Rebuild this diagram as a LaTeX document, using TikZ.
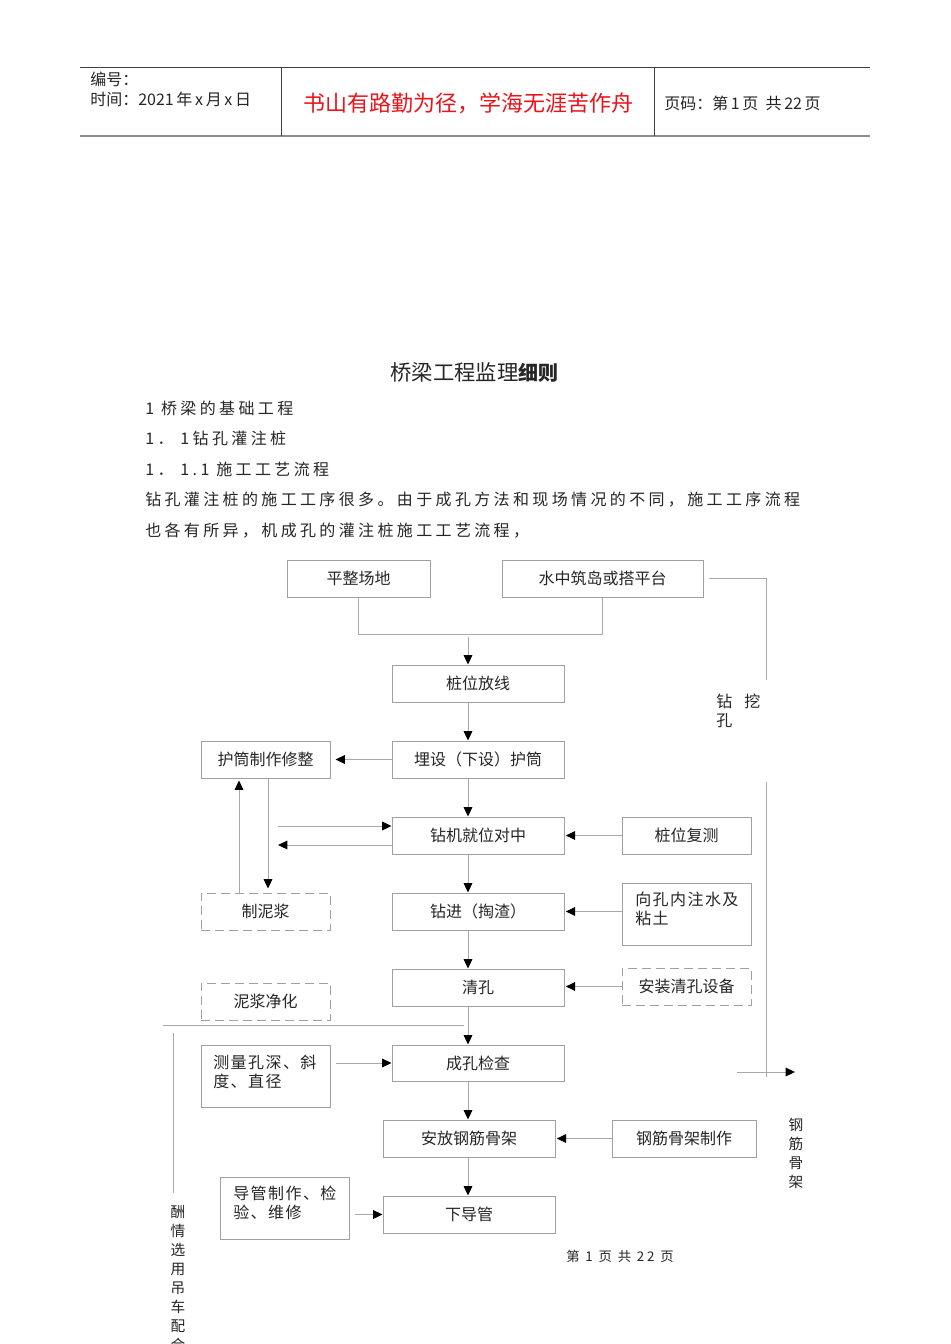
\documentclass[tikz,border=0pt]{standalone}
\usepackage{fontspec}
\setmainfont{Noto Sans CJK SC}
\newfontfamily\bodyfont[LetterSpace=21]{Noto Sans CJK SC}
\newfontfamily\spfont[LetterSpace=9]{Noto Sans CJK SC}
\usetikzlibrary{arrows.meta}
\definecolor{lnc}{HTML}{A8A8A8}
\definecolor{bxc}{HTML}{A0A0A0}
\definecolor{hdred}{HTML}{E8141B}
\definecolor{txc}{HTML}{262626}
\begin{document}
\begin{tikzpicture}[x=0.75pt,y=-0.75pt,
  bsz/.style 2 args={minimum width=#1*0.75pt, minimum height=#2*0.75pt},
  box/.style={draw=bxc, line width=0.75pt, inner sep=0pt, text=txc, font=\fontsize{12pt}{14.25pt}\selectfont},
  dbox/.style={box, dash pattern=on 6.75pt off 3.75pt},
  txt/.style={inner sep=0pt, text=txc, font=\fontsize{12pt}{14.25pt}\selectfont},
  mtxt/.style={inner sep=0pt, text=txc, align=left, font=\spfont\fontsize{12pt}{14.25pt}\selectfont},
  ln/.style={draw=lnc, line width=0.75pt},
  arr/.style={ln, -{Triangle[color=black,length=7pt,width=6.5pt]}},
  body/.style={inner sep=0pt, anchor=west, text=txc, font=\bodyfont\fontsize{12pt}{14pt}\selectfont}
]
\useasboundingbox (0,0) rectangle (950,1344);
\fill[white] (0,0) rectangle (950,1344);

% header
\coordinate (h1) at (80,68); \coordinate (h2) at (870,68);
\coordinate (h3) at (80,136); \coordinate (h4) at (870,136);
\draw[black!75, line width=0.75pt] (h1) -- (h2);
\draw[black!45, line width=1.5pt] (h3) -- (h4);
\draw[black!75, line width=0.75pt] (281,68) -- (281,136);
\draw[black!75, line width=0.75pt] (654,68) -- (654,136);
\node[txt, anchor=west] (bh) at (90,79) {编号：};
\node[txt, anchor=west] (sj) at (90,99) {时间：2021\,年\,x\,月\,x\,日};
\node[inner sep=0pt, text=hdred, font=\fontsize{16.5pt}{18pt}\selectfont] (motto) at (468,103) {书山有路勤为径，学海无涯苦作舟};
\node[txt, anchor=west] (ym) at (664,103) {页码：第\,1\,页\ \ 共\,22\,页};

% title and body
\node[inner sep=0pt, text=txc, font=\fontsize{16pt}{18pt}\selectfont] (title) at (474.5,372) {桥梁工程监理{\bfseries\fontsize{15pt}{18pt}\selectfont 细则}};
\node[body] (b1) at (145,408) {1 桥梁的基础工程};
\node[body] (b2) at (145,438) {1． 1钻孔灌注桩};
\node[body] (b3) at (145,469) {1． 1.1 施工工艺流程};
\node[body] (b4) at (145,500) {钻孔灌注桩的施工工序很多。由于成孔方法和现场情况的不同，施工工序流程};
\node[body] (b5) at (145,531) {也各有所异，机成孔的灌注桩施工工艺流程，};

% boxes
\node[box, bsz={143}{37}] (pz) at (358.5,578.5) {平整场地};
\node[box, bsz={201}{37}] (sz) at (602.5,578.5) {水中筑岛或搭平台};
\node[box, bsz={172}{37}] (zw) at (478,683.5) {桩位放线};
\node[box, bsz={172}{37}] (ms) at (478,759.5) {埋设（下设）护筒};
\node[box, bsz={129}{37}] (hz) at (265.5,759.5) {护筒制作修整};
\node[box, bsz={172}{37}] (zj) at (478,835.5) {钻机就位对中};
\node[box, bsz={129}{37}] (fc) at (686.5,835.5) {桩位复测};
\node[box, bsz={172}{37}] (zjin) at (478,911.5) {钻进（掏渣）};
\node[dbox, bsz={129}{37}] (znj) at (265.5,911.5) {制泥浆};
\node[box, bsz={129}{62}] (zs) at (686.5,914) {};
\node[mtxt, anchor=west] (zst) at (635,908.5) {向孔内注水及\\粘土};
\node[box, bsz={172}{37}] (qk) at (478,987.5) {清孔};
\node[dbox, bsz={129}{37}] (az) at (686.5,986.5) {安装清孔设备};
\node[dbox, bsz={129}{37}] (nj) at (265.5,1001.5) {泥浆净化};
\node[box, bsz={172}{36}] (ck) at (478,1063) {成孔检查};
\node[box, bsz={129}{62}] (cl) at (265.5,1076) {};
\node[mtxt, anchor=west] (clt) at (213,1071.5) {测量孔深、斜\\度、直径};
\node[box, bsz={172}{37}] (af) at (469,1138.5) {安放钢筋骨架};
\node[box, bsz={144}{37}] (gz) at (684,1138.5) {钢筋骨架制作};
\node[box, bsz={172}{37}] (xd) at (469,1214.5) {下导管};
\node[box, bsz={129}{62}] (dg) at (284.5,1208) {};
\node[mtxt, anchor=west] (dgt) at (233,1202.5) {导管制作、检\\验、维修};

% side labels
\node[txt, anchor=west, align=left] (zwk) at (716,710.5) {钻\hspace{9pt}挖\\孔};
\node[inner sep=0pt, text=txc, align=center, font=\fontsize{11pt}{14.25pt}\selectfont] (gjgj) at (796,1153.5) {钢\\筋\\骨\\架};
\node[inner sep=0pt, text=txc, align=center, font=\fontsize{11pt}{14.25pt}\selectfont] (dc) at (178,1278.5) {酬\\情\\选\\用\\吊\\车\\配\\合};
\node[inner sep=0pt, text=txc, font=\bodyfont\fontsize{10pt}{12pt}\selectfont] (foot) at (620,1256) {第 1 页 共 22 页};

% connectors
\coordinate (col) at (468,0);
\draw[ln] (pz.south) -- ++(0,37) -| (sz.south);
\coordinate (m0) at (468,637);
\draw[arr] (m0) -- (zw.north -| col);
\draw[arr] (zw.south -| col) -- (ms.north -| col);
\draw[arr, shorten >=3.75pt] (ms.west) -- (hz.east);
\draw[arr] (ms.south -| col) -- (zj.north -| col);
\coordinate (a1) at (278,826);
\coordinate (a2) at (278,845);
\draw[arr] (a1) -- (a1 -| zj.west);
\draw[arr] (a2 -| zj.west) -- (a2);
\coordinate (v1) at (268,0);
\coordinate (v2) at (239,0);
\draw[arr, shorten >=3pt] (hz.south -| v1) -- (znj.north -| v1);
\draw[arr, shorten >=1.5pt] (znj.north -| v2) -- (hz.south -| v2);
\draw[arr, shorten >=1pt] (fc.west) -- (zj.east);
\draw[arr] (zj.south -| col) -- (zjin.north -| col);
\draw[arr, shorten >=1pt] (zs.west |- zjin.east) -- (zjin.east);
\draw[arr] (zjin.south -| col) -- (qk.north -| col);
\draw[arr, shorten >=1pt] (az.west) -- (az.west -| qk.east);
\coordinate (l1) at (163,1025); \coordinate (l2) at (464,1025);
\draw[ln] (l1) -- (l2);
\draw[arr] (qk.south -| col) -- (ck.north -| col);
\draw[arr, shorten <=3.75pt] (cl.east |- ck.west) -- (ck.west);
\draw[arr] (ck.south -| col) -- (af.north -| col);
\draw[arr, shorten >=1pt] (gz.west) -- (af.east);
\draw[arr] (af.south -| col) -- (xd.north -| col);
\draw[arr, shorten <=3.75pt] (dg.east |- xd.west) -- (xd.west);
\coordinate (l3) at (173,1033); \coordinate (l4) at (173,1193);
\draw[ln] (l3) -- (l4);
\coordinate (r1) at (766,680); \coordinate (r2) at (766,782); \coordinate (r3) at (766,1077);
\draw[ln, shorten <=3.75pt] (sz.east) -| (r1);
\draw[ln] (r2) -- (r3);
\coordinate (r4) at (737,1072); \coordinate (r5) at (795,1072);
\draw[arr] (r4) -- (r5);
\end{tikzpicture}
\end{document}
